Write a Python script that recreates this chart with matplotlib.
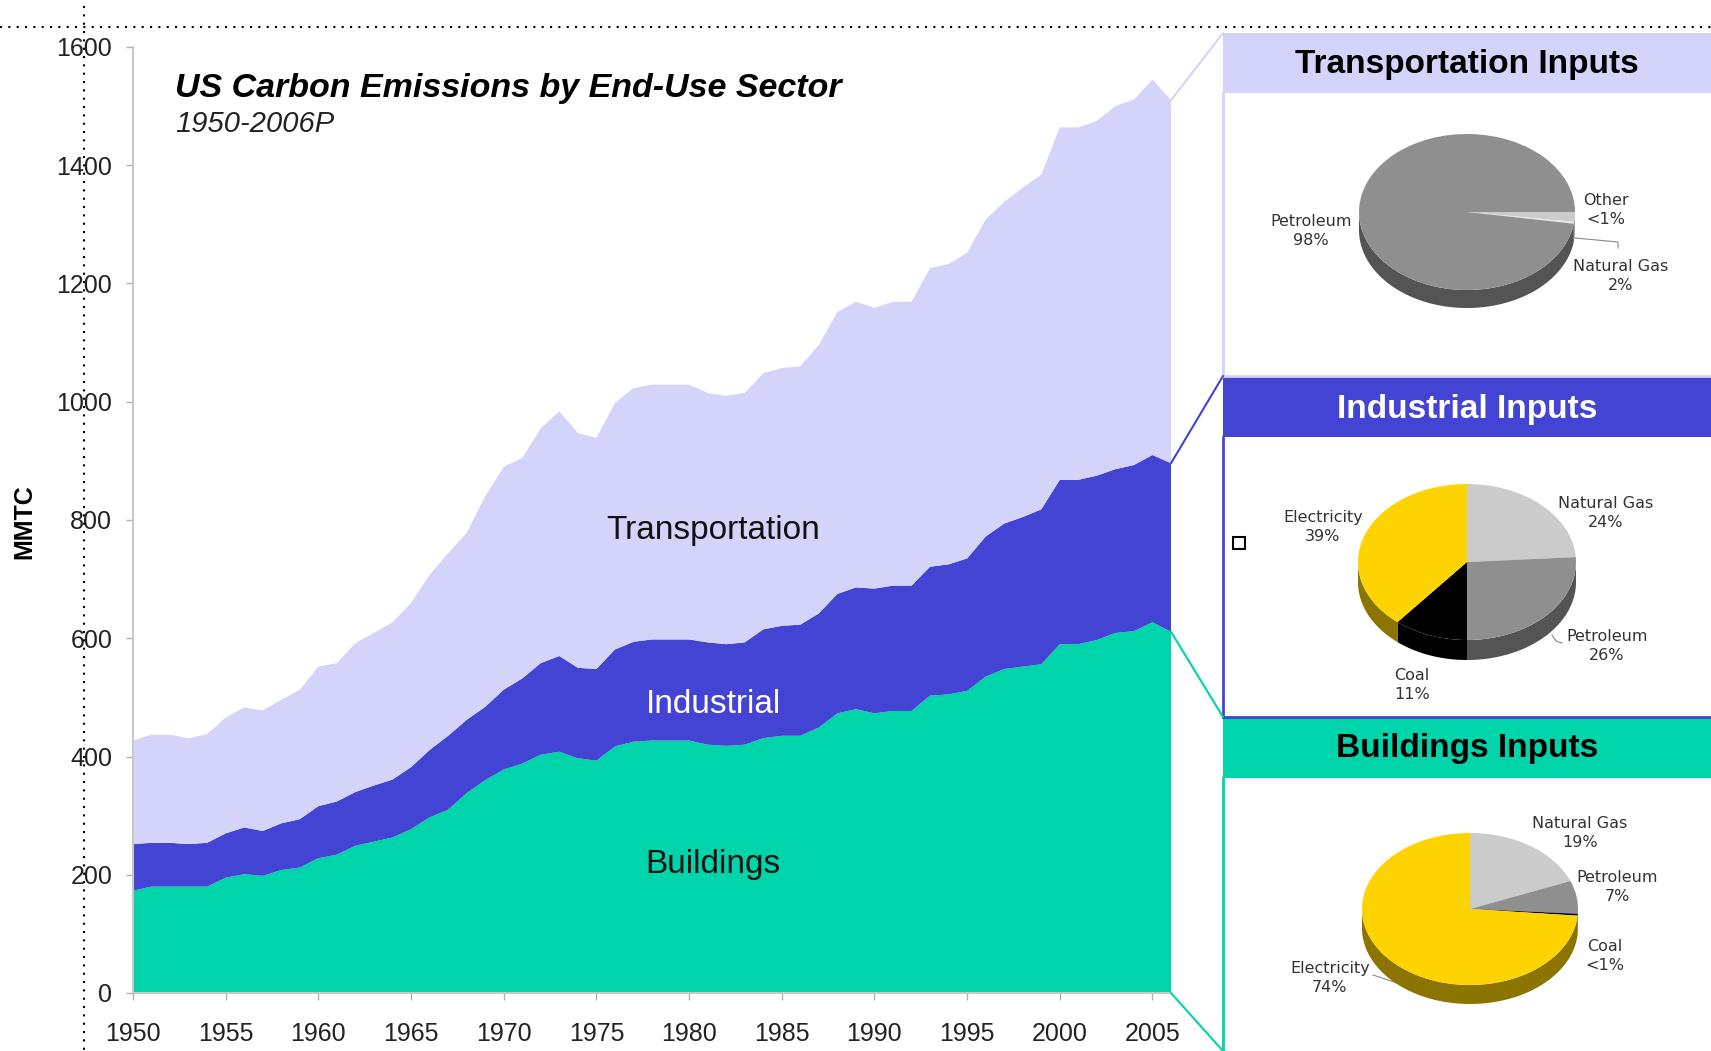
import numpy as np
import matplotlib.pyplot as plt
from matplotlib.patches import Rectangle, ConnectionPatch

plt.rcParams['font.family'] = ['Liberation Sans', 'DejaVu Sans']

W, H = 1711, 1051

years = list(range(1950, 2007))
buildings = [173, 180, 180, 180, 180, 195, 201, 198, 208, 212,
             228, 234, 249, 256, 263, 277, 297, 310, 338, 360,
             378, 388, 403, 408, 397, 393, 417, 425, 427, 427,
             427, 420, 418, 420, 431, 435, 435, 449, 473, 480,
             473, 477, 477, 503, 505, 511, 535, 548, 552, 556,
             590, 590, 597, 609, 612, 627, 611]
industrial = [79, 74, 74, 72, 74, 75, 79, 76, 79, 82,
              88, 90, 91, 95, 98, 105, 114, 125, 124, 124,
              135, 144, 155, 162, 153, 155, 164, 169, 171, 171,
              171, 173, 172, 173, 184, 186, 188, 193, 202, 206,
              211, 212, 212, 218, 220, 224, 237, 246, 253, 262,
              278, 278, 278, 277, 281, 283, 285]
transportation = [175, 183, 183, 179, 184, 196, 203, 204, 209, 219,
                  236, 234, 252, 258, 266, 278, 296, 309, 316, 356,
                  377, 373, 397, 414, 397, 391, 417, 429, 431, 431,
                  431, 422, 420, 422, 433, 436, 437, 454, 477, 483,
                  475, 480, 480, 505, 508, 517, 536, 544, 557, 566,
                  596, 596, 600, 614, 618, 635, 614]

transport_inputs = ["Natural Gas", "Other", "Petroleum"]
transport_shares = [2, 0.4, 97.6]
transport_labels = ["Natural Gas\n2%", "Other\n<1%", "Petroleum\n98%"]
industrial_inputs = ["Natural Gas", "Petroleum", "Coal", "Electricity"]
industrial_shares = [24, 26, 11, 39]
industrial_labels = ["Natural Gas\n24%", "Petroleum\n26%", "Coal\n11%", "Electricity\n39%"]
buildings_inputs = ["Natural Gas", "Petroleum", "Coal", "Electricity"]
buildings_shares = [19, 7, 0.4, 73.6]
buildings_labels = ["Natural Gas\n19%", "Petroleum\n7%", "Coal\n<1%", "Electricity\n74%"]

LAV = '#d4d4fb'
BLUE = '#4444d4'
TEAL = '#00d4aa'
# top colour, side colour
fuel_colors = {"Petroleum": ("#8f8f8f", "#545454"),
               "Natural Gas": ("#cbcbcb", "#8a8a8a"),
               "Coal": ("#000000", "#000000"),
               "Electricity": ("#ffd300", "#8b7400"),
               "Other": ("#e4e4e4", "#a0a0a0")}

fig = plt.figure(figsize=(W / 100, H / 100), dpi=100)

# main stacked area chart
ax = fig.add_axes([133 / W, 1 - 993 / H, (1171 - 133) / W, (993 - 47) / H])
ax.stackplot(years, buildings, industrial, transportation,
             colors=[TEAL, BLUE, LAV], linewidth=0)
ax.set_xlim(1950, 2006)
ax.set_ylim(0, 1600)
ax.set_xticks(range(1950, 2006, 5))
ax.set_yticks(range(0, 1601, 200))
for s in ['top', 'right']:
    ax.spines[s].set_visible(False)
for s in ['left', 'bottom']:
    ax.spines[s].set_color('#c8c8c8')
    ax.spines[s].set_linewidth(1.5)
ax.tick_params(axis='both', colors='#b0b0b0', labelcolor='#222222',
               labelsize=18, length=5, width=1)
ax.tick_params(axis='x', pad=16)
ax.tick_params(axis='y', pad=10)

ax.text(1981.3, 768, "Transportation", ha='center', va='baseline', fontsize=24, color='#111111')
ax.text(1981.3, 474, "Industrial", ha='center', va='baseline', fontsize=24, color='white')
ax.text(1981.3, 203, "Buildings", ha='center', va='baseline', fontsize=24, color='#111111')

# overlay in pixel coordinates
ov = fig.add_axes([0, 0, 1, 1])
ov.set_xlim(0, W)
ov.set_ylim(H, 0)
ov.axis('off')

ov.text(175, 97, "US Carbon Emissions by End-Use Sector", fontsize=24.5,
        weight='bold', style='italic', va='baseline')
ov.text(175, 132, "1950-2006P", fontsize=21, style='italic', va='baseline', color='#222222')
ov.text(24, 522, "MMTC", rotation=90, fontsize=18, weight='bold', ha='center', va='center')

# dotted guide lines
ov.plot([0, W], [27, 27], color='black', lw=1.5, ls=(0, (1, 3)))
ov.plot([84, 84], [6, H], color='black', lw=1.5, ls=(0, (1, 3)))

# right-hand panels
px = 1223
panels = [(33, 93, 376, LAV, "Transportation Inputs", 'black', 73),
          (376, 437, 717, BLUE, "Industrial Inputs", 'white', 418),
          (717, 778, H, TEAL, "Buildings Inputs", 'black', 757)]
for top, body, bottom, col, title, tcol, base in panels:
    ov.add_patch(Rectangle((px, top), W - px, body - top, facecolor=col, edgecolor='none'))
    ov.plot([px, px], [body, bottom], color=col, lw=2)
    if bottom < H:
        ov.plot([px, W], [bottom, bottom], color=col, lw=2)
    ov.text((px + W) / 2, base, title, ha='center', va='baseline',
            fontsize=24, weight='bold', color=tcol)

# connectors from the 2006 edge of the chart to the panels
tot = np.cumsum([buildings, industrial, transportation], axis=0)
for val, ypix, col in [(tot[2][-1], 33, LAV), (tot[1][-1], 376, BLUE),
                       (tot[0][-1], 717, TEAL), (0, H, TEAL)]:
    cp = ConnectionPatch(xyA=(2006, val), coordsA=ax.transData,
                         xyB=(px, ypix), coordsB=ov.transData, color=col, lw=1.5)
    fig.add_artist(cp)

ov.plot([1239], [543], marker='s', ms=9, mfc='white', mec='black', mew=1.5)


def draw_pie(cx, cy, rx, ry, depth, shares, names, start):
    pax = fig.add_axes([(cx - 1.3 * rx) / W, 1 - (cy + 1.3 * ry + depth) / H,
                        2.6 * rx / W, (2.6 * ry + depth) / H])
    d = depth / ry
    wedges, _ = pax.pie(shares, colors=[fuel_colors[n][0] for n in names],
                        startangle=start, counterclock=False,
                        wedgeprops=dict(linewidth=0))
    for w, n in zip(wedges, names):
        t = np.radians(np.linspace(w.theta1, w.theta2, 400))
        idx = np.flatnonzero(np.sin(t) <= 0)
        if idx.size == 0:
            continue
        for run in np.split(idx, np.flatnonzero(np.diff(idx) > 1) + 1):
            tt = t[run]
            xs = np.concatenate([np.cos(tt), np.cos(tt[::-1])])
            ys = np.concatenate([np.sin(tt), np.sin(tt[::-1]) - d])
            pax.fill(xs, ys, color=fuel_colors[n][1], lw=0, zorder=0)
    pax.set_aspect('auto')
    pax.set_xlim(-1.3, 1.3)
    pax.set_ylim(-1.3 - d, 1.3)
    pax.axis('off')


draw_pie(1467, 212, 108, 78, 18, transport_shares, transport_inputs, 0)
draw_pie(1467, 562, 109, 78, 20, industrial_shares, industrial_inputs, 90)
draw_pie(1470, 909, 108, 76, 19, buildings_shares, buildings_inputs, 90)

lab = dict(ha='center', va='center', fontsize=11.5, color='#333333',
           family='DejaVu Sans', linespacing=1.35)
for text, (x, y) in zip(transport_labels, [(1621, 276), (1606, 210), (1311, 231)]):
    ov.text(x, y, text, **lab)
for text, (x, y) in zip(industrial_labels, [(1606, 513), (1607, 646), (1412, 685), (1323, 527)]):
    ov.text(x, y, text, **lab)
for text, (x, y) in zip(buildings_labels, [(1580, 833), (1617, 887), (1605, 956), (1330, 978)]):
    ov.text(x, y, text, **lab)

# leader lines
ov.plot([1575, 1618, 1618], [238, 242, 248], color='#888888', lw=0.8)
ov.plot([1552, 1556, 1562], [635, 641, 643], color='#888888', lw=0.8)
ov.plot([1373, 1397], [975, 983], color='#888888', lw=0.8)

fig.savefig('out.png', dpi=100)
